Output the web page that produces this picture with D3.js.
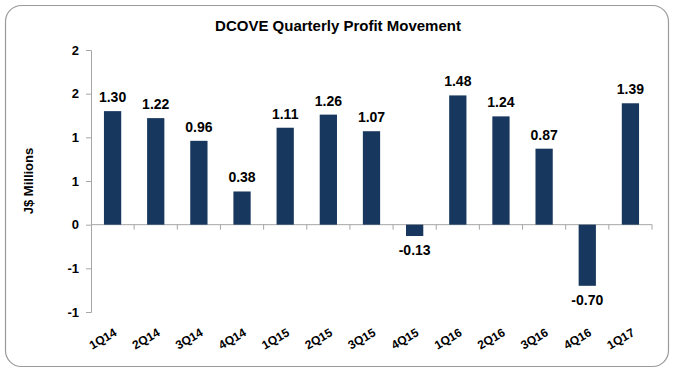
<!DOCTYPE html>
<html>
<head>
<meta charset="utf-8">
<script src="https://cdn.jsdelivr.net/npm/d3@7"></script>
<style>
  body { margin: 0; background: #fff; }
  svg { display: block; font-family: "Liberation Sans", Arial, sans-serif; }
</style>
</head>
<body>
<div id="chart"></div>
<script>
const quarters = ['1Q14', '2Q14', '3Q14', '4Q14', '1Q15', '2Q15', '3Q15', '4Q15', '1Q16', '2Q16', '3Q16', '4Q16', '1Q17'];
const profit = [1.30, 1.22, 0.96, 0.38, 1.11, 1.26, 1.07, -0.13, 1.48, 1.24, 0.87, -0.70, 1.39];
const yTicks = [2, 1.5, 1, 0.5, 0, -0.5, -1];

const width = 679, height = 376;
const margin = { top: 50, right: 27, bottom: 64, left: 91 };

const svg = d3.select('#chart').append('svg')
    .attr('width', width)
    .attr('height', height);

// outer frame
svg.append('rect')
    .attr('x', 5.5).attr('y', 5.5)
    .attr('width', 663).attr('height', 361)
    .attr('rx', 16)
    .attr('fill', '#fff')
    .attr('stroke', '#9a9a9a')
    .attr('stroke-width', 1.2);

svg.append('text')
    .attr('x', 338)
    .attr('y', 31)
    .attr('text-anchor', 'middle')
    .attr('font-size', 15)
    .attr('font-weight', 'bold')
    .text('DCOVE Quarterly Profit Movement');

const x = d3.scaleBand()
    .domain(quarters)
    .range([margin.left, width - margin.right])
    .paddingInner(0.6)
    .paddingOuter(0.3);

const y = d3.scaleLinear()
    .domain([-1, 2])
    .range([height - margin.bottom, margin.top]);

// y axis (Excel rounds the tick labels to whole numbers)
const yAxis = d3.axisLeft(y)
    .tickValues(yTicks)
    .tickSize(5)
    .tickPadding(7)
    .tickFormat(d => {
        const r = Math.sign(d) * Math.round(Math.abs(d));
        return r === 0 ? '0' : String(r);
    });

const gy = svg.append('g')
    .attr('transform', `translate(${margin.left},0)`)
    .call(yAxis);
gy.selectAll('path, line').attr('stroke', '#a6a6a6');
gy.selectAll('text')
    .attr('font-size', 13)
    .attr('font-weight', 'bold')
    .attr('fill', '#000');

svg.append('text')
    .attr('transform', `translate(33, ${(y(2) + y(-1)) / 2}) rotate(-90)`)
    .attr('text-anchor', 'middle')
    .attr('font-size', 13)
    .attr('font-weight', 'bold')
    .text('J$ Millions');

// zero line with category dividers
const step = x.step();
const zeroY = y(0);
const gx = svg.append('g');
gx.append('line')
    .attr('x1', margin.left).attr('x2', width - margin.right)
    .attr('y1', zeroY).attr('y2', zeroY)
    .attr('stroke', '#a6a6a6');
gx.selectAll('.div')
    .data(d3.range(1, quarters.length + 1))
    .join('line')
    .attr('x1', i => margin.left + i * step)
    .attr('x2', i => margin.left + i * step)
    .attr('y1', zeroY).attr('y2', zeroY + 5)
    .attr('stroke', '#a6a6a6');

// bars
svg.selectAll('.bar')
    .data(profit)
    .join('rect')
    .attr('class', 'bar')
    .attr('x', (d, i) => x(quarters[i]))
    .attr('width', x.bandwidth())
    .attr('y', d => y(Math.max(0, d)))
    .attr('height', d => Math.abs(y(d) - y(0)))
    .attr('fill', '#17375e');

// value labels
svg.selectAll('.val')
    .data(profit)
    .join('text')
    .attr('class', 'val')
    .attr('x', (d, i) => x(quarters[i]) + x.bandwidth() / 2)
    .attr('y', d => d >= 0 ? y(d) - 9 : y(d) + 19)
    .attr('text-anchor', 'middle')
    .attr('font-size', 14)
    .attr('font-weight', 'bold')
    .text(d => d.toFixed(2));

// category labels along the bottom
svg.selectAll('.cat')
    .data(quarters)
    .join('text')
    .attr('class', 'cat')
    .attr('transform', d => `translate(${x(d) + x.bandwidth() / 2 + 5}, 335) rotate(-30)`)
    .attr('text-anchor', 'end')
    .attr('font-size', 12)
    .attr('font-weight', 'bold')
    .text(d => d);
</script>
</body>
</html>
